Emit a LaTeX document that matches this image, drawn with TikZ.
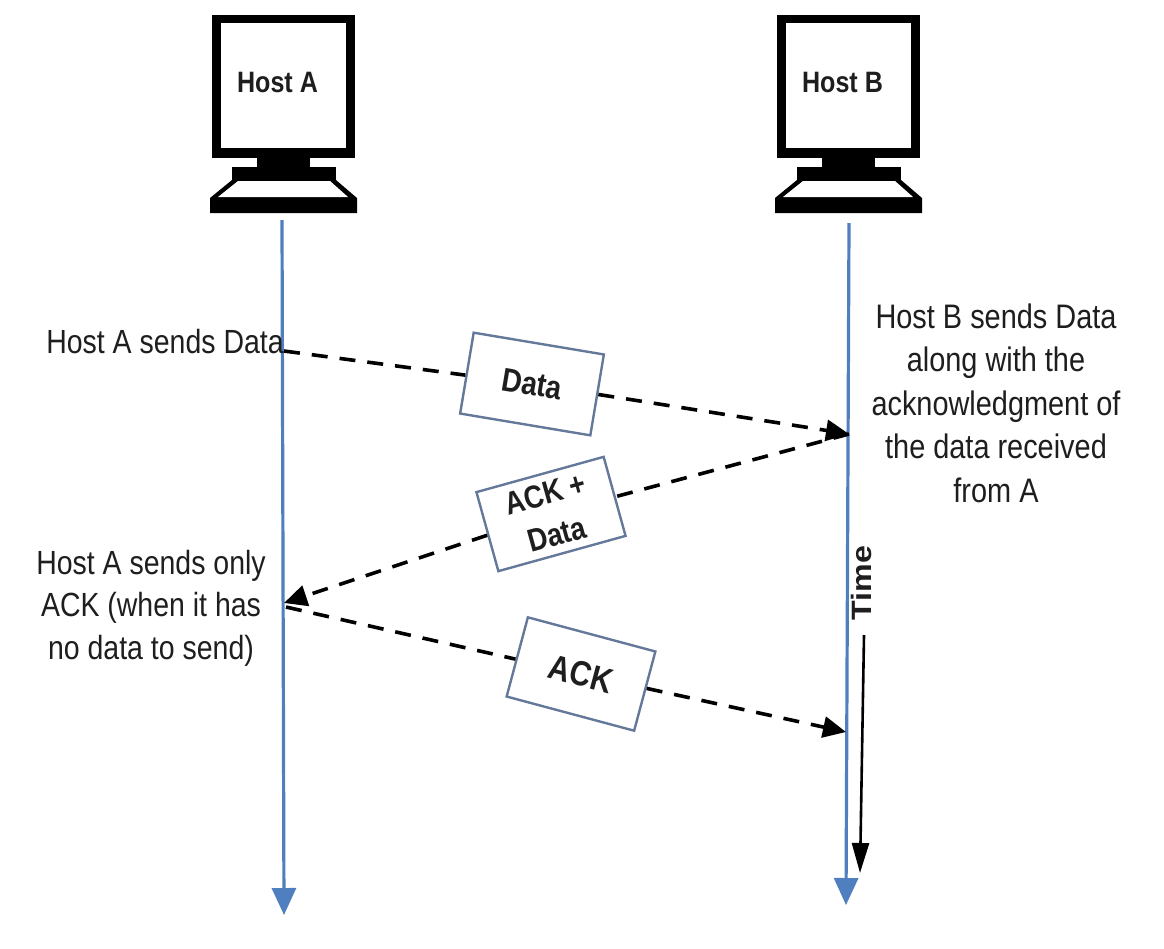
\documentclass[tikz,border=0pt]{standalone}
\usepackage{fontspec}
\setmainfont[FakeStretch=0.85]{Liberation Sans}
\newfontfamily\timefont[FakeStretch=1.15]{Liberation Sans}
\usetikzlibrary{arrows.meta}
\definecolor{timeline}{HTML}{4F7FBF}
\definecolor{boxedge}{HTML}{64799A}
\definecolor{inktext}{HTML}{1E1E1E}
\tikzset{
    timearrow/.style = {draw = timeline, line width = 3.2pt, -{Triangle[length = 27pt, width = 24pt]}},
    message/.style = {draw = black, line width = 3.6pt, dash pattern = on 16pt off 12pt},
    messagehead/.style = {message, -{Triangle[length = 23pt, width = 21pt]}},
    packet/.style = {draw = boxedge, line width = 2.4pt, fill = white, align = center, minimum width = 132pt, minimum height = 82pt, inner sep = 0pt, text = inktext},
    caption/.style = {align = center, inner sep = 0pt, text = inktext, font = \fontsize{33.5}{42.5}\selectfont},
}
\begin{document}
\begin{tikzpicture}[x = 1pt, y = -1pt]
    \useasboundingbox (0, 0) rectangle (1164, 948);
    % the two computers
    \foreach \hostx/\hostname in {0/A, 565/B} {
        \begin{scope}[xshift = \hostx pt]
            \fill (212, 15) rectangle (355, 158);
            \fill [white] (221, 23) rectangle (346, 148);
            \fill (257, 158) rectangle (310, 170);
            \fill (232, 167) rectangle (336, 180);
            \fill (232, 180) -- (336, 180) -- (357, 198) -- (357, 213) -- (210, 213) -- (210, 198) -- cycle;
            \fill [white] (238, 181) -- (330, 181) -- (348, 197) -- (218, 197) -- cycle;
            \node [inner sep = 0pt, text = inktext, font = \fontsize{29.5}{34}\selectfont\bfseries] (host\hostname) at (277.5, 82) {Host \hostname};
        \end{scope}
    }
    % time lines
    \coordinate (topA) at (282, 220);
    \coordinate (endA) at (284, 915);
    \coordinate (topB) at (849, 223);
    \coordinate (endB) at (846, 905);
    \draw [timearrow] (topA) -- (endA);
    \draw [timearrow] (topB) -- (endB);
    % messages
    \node [packet, rotate = -9.5, font = \fontsize{33}{40}\selectfont\bfseries] (dataBox) at (532, 384) {Data};
    \node [packet, rotate = 15.5, font = \fontsize{32}{42}\selectfont\bfseries] (ackDataBox) at (551, 514) {ACK +\\Data};
    \node [packet, rotate = -15, font = \fontsize{35}{42}\selectfont\bfseries] (ackBox) at (581, 674) {ACK};
    \coordinate (sendA) at (284, 351);
    \coordinate (recvB) at (849, 434);
    \coordinate (recvA) at (284, 603);
    \coordinate (sendAck) at (286, 607);
    \coordinate (ackB) at (846, 732);
    \draw [message] (sendA) -- (dataBox);
    \draw [messagehead] (dataBox) -- (recvB);
    \draw [message] (recvB) -- (ackDataBox);
    \draw [messagehead] (ackDataBox) -- (recvA);
    \draw [message] (sendAck) -- (ackBox);
    \draw [messagehead] (ackBox) -- (ackB);
    % texts
    \node [caption] (sendsData) at (165, 342) {Host A sends Data};
    \node [caption] (sendsAck) at (151, 608) {Host A sends only\\ACK (when it has\\no data to send)};
    \node [caption, font = \fontsize{34}{43.5}\selectfont] (sendsBoth) at (996, 403) {Host B sends Data\\along with the\\acknowledgment of\\the data received\\from A};
    % time arrow
    \node [rotate = 90, inner sep = 0pt, text = inktext, font = \fontsize{28}{32}\timefont\bfseries] (timeLabel) at (861, 583) {Time};
    \coordinate (timeStart) at (864, 635);
    \coordinate (timeEnd) at (860, 873);
    \draw [line width = 2.6pt, -{Triangle[length = 30pt, width = 17pt]}] (timeStart) -- (timeEnd);
\end{tikzpicture}
\end{document}
